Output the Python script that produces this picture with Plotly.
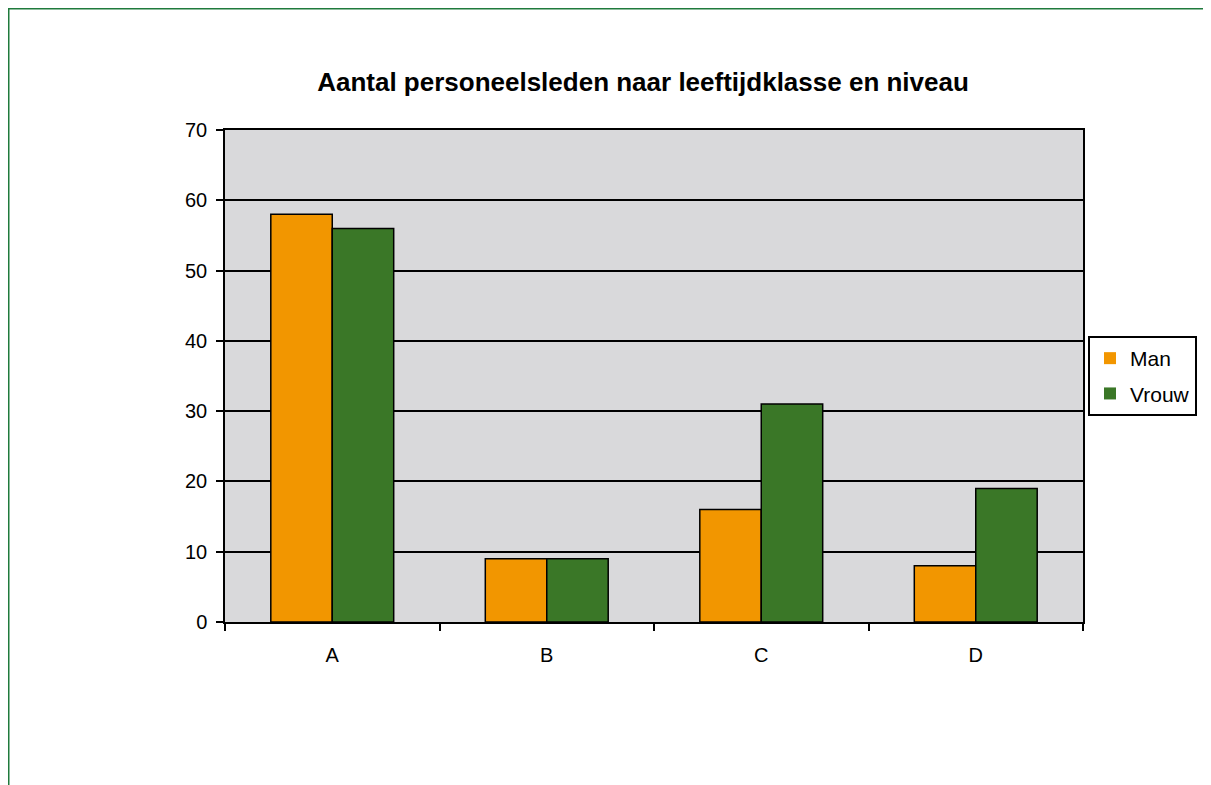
import plotly.graph_objects as go

categories = ["A", "B", "C", "D"]
man = [58, 9, 16, 8]
vrouw = [56, 9, 31, 19]
y_ticks = [0, 10, 20, 30, 40, 50, 60, 70]
series_names = ["Man", "Vrouw"]
series_colors = ["#F29600", "#3A7727"]

# page has an 8px body margin, so figure coords = reference coords - 8
OFF = 8
W, H = 1211 - OFF, 785 - OFF
L, R, T, B = 225 - OFF, 1211 - 1083, 130 - OFF, 785 - 622
pw, ph = W - L - R, H - T - B

def px_x(x):
    return (x - OFF - L) / pw

def px_y(y):
    return (H - B - (y - OFF)) / ph

fig = go.Figure()
for name, vals, col in zip(series_names, [man, vrouw], series_colors):
    fig.add_trace(go.Bar(name=name, x=categories, y=vals, showlegend=False,
                         marker=dict(color=col, line=dict(color="black", width=1.5))))
# legend entries (plain squares without outline, as in the reference)
for name, col in zip(series_names, series_colors):
    fig.add_trace(go.Scatter(name=name, x=[None], y=[None], mode="markers",
                             legendgroup=name, hoverinfo="skip",
                             marker=dict(symbol="square", size=12, color=col,
                                         line=dict(width=0))))

fig.update_layout(
    width=W, height=H,
    margin=dict(l=L, r=R, t=T, b=B, autoexpand=False),
    paper_bgcolor="white",
    plot_bgcolor="#D9D9DB",
    barmode="group",
    bargap=0.427,
    bargroupgap=0,
    font=dict(family="Arial, Liberation Sans", size=20, color="black"),
    title=dict(text="<b>Aantal personeelsleden naar leeftijdklasse en niveau</b>",
               x=(643 - OFF) / W, xanchor="center", xref="container",
               y=1 - (82 - OFF) / H, yanchor="middle", yref="container",
               font=dict(size=26, color="black")),
    legend=dict(x=px_x(1088), xanchor="left", y=px_y(336), yanchor="top",
                bordercolor="black", borderwidth=2, bgcolor="white",
                font=dict(size=21), itemwidth=30, tracegroupgap=5,
                traceorder="grouped"),
    xaxis=dict(showline=True, linecolor="black", linewidth=1.5, mirror=True,
               ticks="outside", tickson="boundaries", ticklen=7, tickcolor="black",
               tickwidth=1.5, showgrid=False, ticklabelstandoff=14),
    yaxis=dict(range=[0, 70], tickvals=y_ticks, showline=True, linecolor="black",
               linewidth=1.5, mirror=True, ticks="outside", ticklen=7, tickcolor="black",
               tickwidth=1.5, showgrid=True, gridcolor="black", gridwidth=1.5,
               zeroline=False, ticklabelstandoff=5),
    shapes=[dict(type="rect", xref="paper", yref="paper",
                 x0=(-L + 0.75) / pw, x1=(W - L + 20) / pw,
                 y0=(ph + T - 0.75) / ph, y1=-(B + 20) / ph,
                 line=dict(color="#1F7A3C", width=1.5), fillcolor="rgba(0,0,0,0)", layer="below")],
)

fig.write_html("out.html")
